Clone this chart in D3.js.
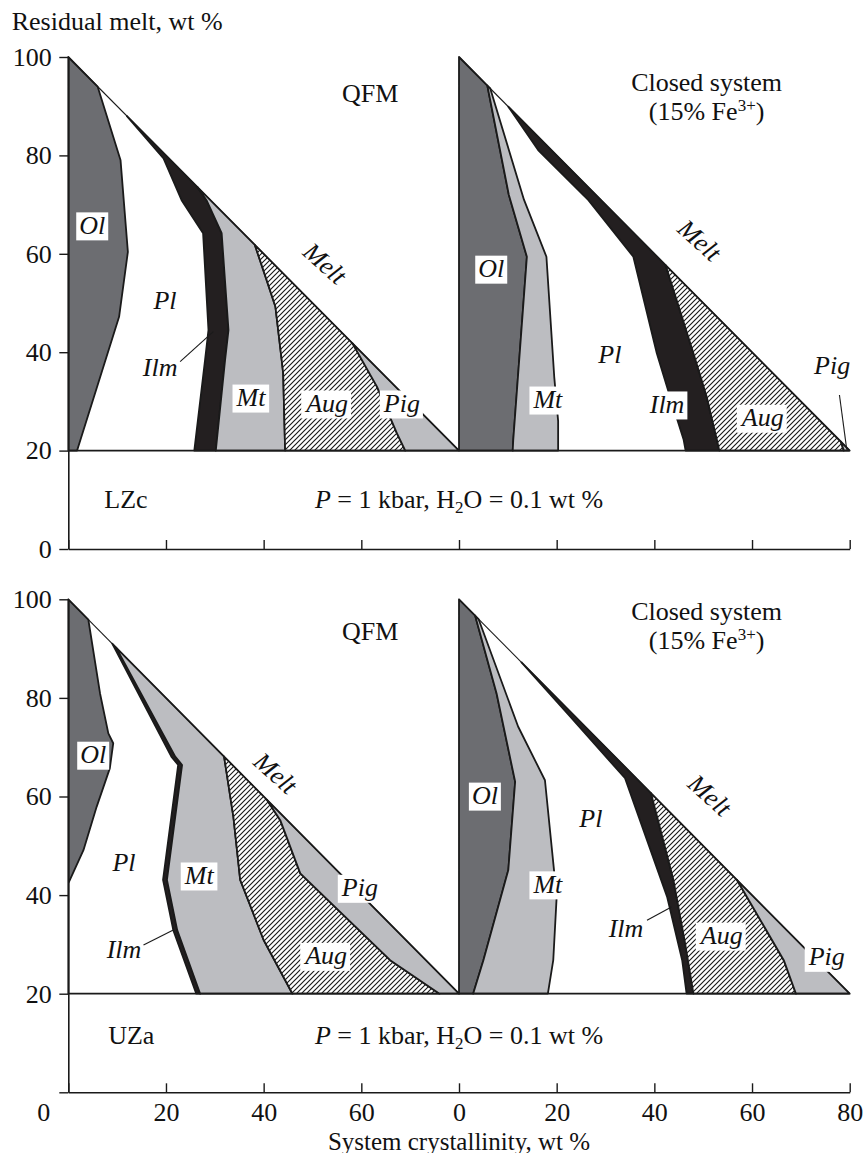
<!DOCTYPE html>
<html>
<head>
<meta charset="utf-8">
<script src="https://cdn.jsdelivr.net/npm/d3@7"></script>
<style>
  body { margin: 0; background: #fff; }
  svg { display: block; }
  text { font-family: "Liberation Serif", "Times New Roman", serif; fill: #111; }
</style>
</head>
<body>
<svg id="fig" width="864" height="1153"></svg>
<script>
// ---------------------------------------------------------------
// Crystallization sequences: residual melt (wt %) vs. system
// crystallinity (wt %). Each diagram is a stack of phase fields;
// a boundary is listed as [crystallinity, residual melt] points,
// starting on the melt line where the phase appears.
// ---------------------------------------------------------------

const yTickValues = [0, 20, 40, 60, 80, 100];
const yTickLabelsBottom = [20, 40, 60, 80, 100];
const xTickValues = [0, 20, 40, 60, 80, 100, 120, 140, 160];   // two 0–80 scales side by side
const xTickLabels = ["0", "20", "40", "60", "0", "20", "40", "60", "80"];

// LZc, QFM buffer
const lzcQfmPhases = ["Ol", "Pl", "Ilm", "Mt", "Aug", "Pig"];
const lzcQfmBounds = [
  [[0, 100], [0, 20]],
  [[6, 94], [10.7, 79], [12.2, 60.4], [10.4, 47.2], [1.8, 20]],
  [[12, 88], [19.5, 79.4], [23.2, 70.9], [27.6, 64.2], [28.7, 44.5], [28, 38.4], [25.8, 20]],
  [[26.4, 73.6], [28.3, 70.9], [31.4, 64.2], [32.8, 44.5], [32.1, 38.4], [30.2, 20]],
  [[38.2, 61.8], [40.6, 54.7], [42.4, 49.3], [43.7, 38.4], [44, 35.7], [44.4, 20]],
  [[58.2, 41.8], [63.2, 33], [67.3, 23.5], [69, 20]],
  [[80, 20]]
];
const lzcQfmLabels = [
  { t: "Ol", x: 4.9, y: 65.9, box: true },
  { t: "Pl", x: 19.8, y: 50.6 },
  { t: "Ilm", x: 18.8, y: 37 },
  { t: "Mt", x: 37.4, y: 30.9, box: true },
  { t: "Aug", x: 53, y: 29.7, box: true },
  { t: "Pig", x: 68.3, y: 29.7, box: true },
  { t: "Melt", x: 52.6, y: 58.1, melt: true }
];
const lzcQfmLeaders = [[[22.9, 38.1], [29.7, 44.2]]];

// LZc, closed system
const lzcClosedPhases = ["Ol", "Mt", "Pl", "Ilm", "Aug", "Pig"];
const lzcClosedBounds = [
  [[0, 100], [0, 20]],
  [[5.8, 94.2], [10.2, 72], [13.9, 59.4], [11.1, 22], [11, 20]],
  [[6.4, 93.6], [13.3, 71], [17.9, 59.4], [19.5, 35], [20.3, 26], [20.3, 20]],
  [[10.1, 89.9], [16.2, 81.1], [26.5, 70.9], [35.7, 59.4], [40.5, 39.8], [43.2, 31], [46, 22.2], [46.4, 20]],
  [[42.3, 57.7], [48, 39.8], [50.7, 31], [52.8, 22.2], [53.3, 20]],
  [[78.2, 21.8], [78.8, 20]],
  [[80, 20]]
];
const lzcClosedLabels = [
  { t: "Ol", x: 6.6, y: 57.1, box: true },
  { t: "Mt", x: 18.2, y: 30.5, box: true },
  { t: "Pl", x: 30.9, y: 39.6 },
  { t: "Ilm", x: 42.6, y: 29.5, box: true },
  { t: "Aug", x: 62.2, y: 26.8, box: true },
  { t: "Pig", x: 76.4, y: 37.4 },
  { t: "Melt", x: 49.3, y: 62.8, melt: true }
];
const lzcClosedLeaders = [[[77.9, 31.3], [79.4, 20.2]]];

// UZa, QFM buffer
const uzaQfmPhases = ["Ol", "Pl", "Ilm", "Mt", "Aug", "Pig"];
const uzaQfmBounds = [
  [[0, 100], [0, 20]],
  [[4.1, 95.9], [6.5, 80.9], [8.2, 72.8], [9.2, 70.8], [8.5, 65.7], [5.8, 57.9], [3.1, 49.1], [0, 42.4], [0, 20]],
  [[9, 91], [21.1, 68.1], [22.5, 66.4], [19.4, 43.1], [21.5, 32.9], [26.2, 20]],
  [[9.8, 90.2], [21.9, 68.1], [23.3, 66.4], [20.2, 43.1], [22.3, 32.9], [27, 20]],
  [[31.9, 68.1], [33.8, 55.9], [35.2, 43.1], [40, 30.9], [45.9, 20]],
  [[40.7, 59.3], [43.4, 55.2], [47.5, 44.4], [49.5, 42.5], [65.9, 26.8], [76, 20]],
  [[80, 20]]
];
const uzaQfmLabels = [
  { t: "Ol", x: 5.1, y: 68.6, box: true },
  { t: "Pl", x: 11.4, y: 46.7 },
  { t: "Mt", x: 26.8, y: 44.1, box: true },
  { t: "Ilm", x: 11.4, y: 29.1 },
  { t: "Aug", x: 52.8, y: 27.8, box: true },
  { t: "Pig", x: 59.7, y: 41.6, box: true },
  { t: "Melt", x: 42.5, y: 64.8, melt: true }
];
const uzaQfmLeaders = [[[15.4, 29.9], [21.5, 32.9]]];

// UZa, closed system
const uzaClosedPhases = ["Ol", "Mt", "Pl", "Ilm", "Aug", "Pig"];
const uzaClosedBounds = [
  [[0, 100], [0, 20]],
  [[3.3, 96.7], [7.7, 80.9], [11.5, 63], [10.1, 45.1], [5, 26.8], [2.9, 20]],
  [[4, 96], [12.1, 74.2], [17.6, 63.3], [20, 39.7], [19.3, 26.8], [18.2, 20]],
  [[12.8, 87.2], [22.6, 76.4], [34, 63.7], [42.6, 39.7], [45.7, 26.8], [46.6, 20]],
  [[39.3, 60.7], [43.9, 43.1], [46.3, 30.2], [48, 20]],
  [[56.9, 43.1], [66.5, 26.8], [69, 20]],
  [[80, 20]]
];
const uzaClosedLabels = [
  { t: "Ol", x: 5.3, y: 60.3, box: true },
  { t: "Mt", x: 18.2, y: 42.3, box: true },
  { t: "Pl", x: 27, y: 55.7 },
  { t: "Ilm", x: 34.2, y: 33.3 },
  { t: "Aug", x: 53.8, y: 31.9, box: true },
  { t: "Pig", x: 75.3, y: 27.6, box: true },
  { t: "Melt", x: 51.4, y: 60.3, melt: true }
];
const uzaClosedLeaders = [[[38.5, 34.9], [43.5, 37.6]]];

// ---------------------------------------------------------------
const phaseFill = {
  Ol: "#6c6d71",
  Pl: null,
  Ilm: "#231f20",
  Mt: "#bcbdc1",
  Aug: "url(#hatch)",
  Pig: "#bcbdc1"
};

const svg = d3.select("#fig");

const defs = svg.append("defs");
const pat = defs.append("pattern")
  .attr("id", "hatch")
  .attr("patternUnits", "userSpaceOnUse")
  .attr("width", 5).attr("height", 5);
pat.append("rect").attr("width", 5).attr("height", 5).attr("fill", "#fff");
pat.append("path")
  .attr("d", "M-1,1 L1,-1 M0,5 L5,0 M4,6 L6,4")
  .attr("stroke", "#1a1a1a").attr("stroke-width", 1.15);

const xLeft = d3.scaleLinear().domain([0, 80]).range([68.3, 459]);
const xRight = d3.scaleLinear().domain([0, 80]).range([459, 849.7]);
const xAll = d3.scaleLinear().domain([0, 160]).range([68.3, 849.7]);
const yTop = d3.scaleLinear().domain([0, 100]).range([549, 57]);
const yBot = d3.scaleLinear().domain([0, 100]).range([1092.3, 599.3]);

const panels = [
  {
    y: yTop, zone: "LZc", showX: false, yLabels: yTickValues,
    diagrams: [
      { x: xLeft, phases: lzcQfmPhases, bounds: lzcQfmBounds, labels: lzcQfmLabels, leaders: lzcQfmLeaders },
      { x: xRight, phases: lzcClosedPhases, bounds: lzcClosedBounds, labels: lzcClosedLabels, leaders: lzcClosedLeaders }
    ],
    qfm: [61.8, 92.7], closed: [50.7, 94.9], zoneAt: [11.8, 10.2]
  },
  {
    y: yBot, zone: "UZa", showX: true, yLabels: yTickLabelsBottom,
    diagrams: [
      { x: xLeft, phases: uzaQfmPhases, bounds: uzaQfmBounds, labels: uzaQfmLabels, leaders: uzaQfmLeaders },
      { x: xRight, phases: uzaClosedPhases, bounds: uzaClosedBounds, labels: uzaClosedLabels, leaders: uzaClosedLeaders }
    ],
    qfm: [61.8, 93.6], closed: [50.7, 97.6], zoneAt: [12.9, 11.6]
  }
];

const FS = 26;

function drawLabel(layer, xs, ys, l) {
  const g = layer.append("g")
    .attr("transform", `translate(${xs(l.x)},${ys(l.y)})` + (l.melt ? " rotate(42)" : ""));
  const t = g.append("text")
    .attr("text-anchor", "middle")
    .attr("dy", "0.35em")
    .style("font-style", "italic")
    .style("font-size", FS + "px")
    .text(l.t);
  if (l.box) {
    const b = t.node().getBBox();
    g.insert("rect", "text")
      .attr("x", b.x - 3).attr("y", b.y + 1.5)
      .attr("width", b.width + 6).attr("height", b.height - 1)
      .attr("fill", "#fff");
  }
}

panels.forEach(p => {
  const ys = p.y;
  const gp = svg.append("g");

  p.diagrams.forEach(d => {
    const xs = d.x;
    const line = d3.line().x(v => xs(v[0])).y(v => ys(v[1]));
    const fields = gp.append("g");
    d.phases.forEach((ph, i) => {
      const fill = phaseFill[ph];
      if (!fill) return;
      const pts = d.bounds[i].concat(d.bounds[i + 1].slice().reverse());
      fields.append("path")
        .attr("d", line(pts) + "Z")
        .attr("fill", fill)
        .attr("stroke", "#1a1a1a")
        .attr("stroke-width", 1.8)
        .attr("stroke-linejoin", "round");
    });
    // melt line (total crystallinity = 100 - residual melt)
    gp.append("path")
      .attr("d", line([[0, 100], [80, 20]]))
      .attr("fill", "none").attr("stroke", "#1a1a1a").attr("stroke-width", 1.1);
    d.leaders.forEach(ld => {
      gp.append("path").attr("d", line(ld))
        .attr("fill", "none").attr("stroke", "#1a1a1a").attr("stroke-width", 1.1);
    });
    const lab = gp.append("g");
    d.labels.forEach(l => drawLabel(lab, xs, ys, l));
  });

  // base of the crystallization fields (20 % residual melt)
  gp.append("line")
    .attr("x1", xAll(0)).attr("x2", xAll(160))
    .attr("y1", ys(20)).attr("y2", ys(20))
    .attr("stroke", "#1a1a1a").attr("stroke-width", 1.8);

  // axes
  const yAxis = d3.axisLeft(ys)
    .tickValues(yTickValues)
    .tickSize(9).tickSizeOuter(0).tickPadding(7.5)
    .tickFormat(v => p.yLabels.includes(v) ? String(v) : "");
  const ga = gp.append("g").attr("transform", `translate(${xAll(0)},0)`).call(yAxis);
  ga.selectAll("text").style("font-size", FS + "px").attr("fill", "#111");

  const xAxis = d3.axisBottom(xAll)
    .tickValues(xTickValues)
    .tickSize(-9).tickSizeOuter(0).tickPadding(10)
    .tickFormat((v, i) => p.showX ? xTickLabels[i] : "");
  const gx = gp.append("g").attr("transform", `translate(0,${ys(0)})`).call(xAxis);
  gx.selectAll("text").style("font-size", FS + "px").attr("fill", "#111");
  gx.selectAll(".tick").filter(v => v === 0).select("text").attr("dx", -25);

  [ga, gx].forEach(g => {
    g.select(".domain").attr("stroke", "#1a1a1a").attr("stroke-width", 1.6);
    g.selectAll(".tick line").attr("stroke", "#1a1a1a").attr("stroke-width", 1.4);
    g.attr("font-family", null).attr("font-size", null);
  });

  // annotations
  gp.append("text")
    .attr("x", xLeft(p.qfm[0])).attr("y", ys(p.qfm[1])).attr("dy", "0.35em")
    .attr("text-anchor", "middle").style("font-size", FS + "px").text("QFM");

  const cs = gp.append("text")
    .attr("x", xRight(p.closed[0])).attr("y", ys(p.closed[1])).attr("dy", "0.35em")
    .attr("text-anchor", "middle").style("font-size", FS + "px");
  cs.append("tspan").text("Closed system");
  const cs2 = gp.append("text")
    .attr("x", xRight(p.closed[0])).attr("y", ys(p.closed[1]) + 29).attr("dy", "0.35em")
    .attr("text-anchor", "middle").style("font-size", FS + "px");
  cs2.append("tspan").text("(15% Fe");
  cs2.append("tspan").attr("dy", -9).style("font-size", "17px").text("3+");
  cs2.append("tspan").attr("dy", 9).text(")");

  gp.append("text")
    .attr("x", xLeft(p.zoneAt[0])).attr("y", ys(p.zoneAt[1])).attr("dy", "0.35em")
    .attr("text-anchor", "middle").style("font-size", FS + "px").text(p.zone);

  const cond = gp.append("text")
    .attr("x", xAll(80)).attr("y", ys(p.zoneAt[1])).attr("dy", "0.35em")
    .attr("text-anchor", "middle").style("font-size", FS + "px");
  cond.append("tspan").style("font-style", "italic").text("P");
  cond.append("tspan").text(" = 1 kbar, H");
  cond.append("tspan").attr("dy", 5).style("font-size", "17px").text("2");
  cond.append("tspan").attr("dy", -5).text("O = 0.1 wt %");
});

// axis titles
svg.append("text").attr("x", 11.7).attr("y", 29.5)
  .style("font-size", FS + "px").text("Residual melt, wt %");
svg.append("text").attr("x", xAll(80)).attr("y", 1149.5)
  .attr("text-anchor", "middle").style("font-size", "25px").text("System crystallinity, wt %");
</script>
</body>
</html>
